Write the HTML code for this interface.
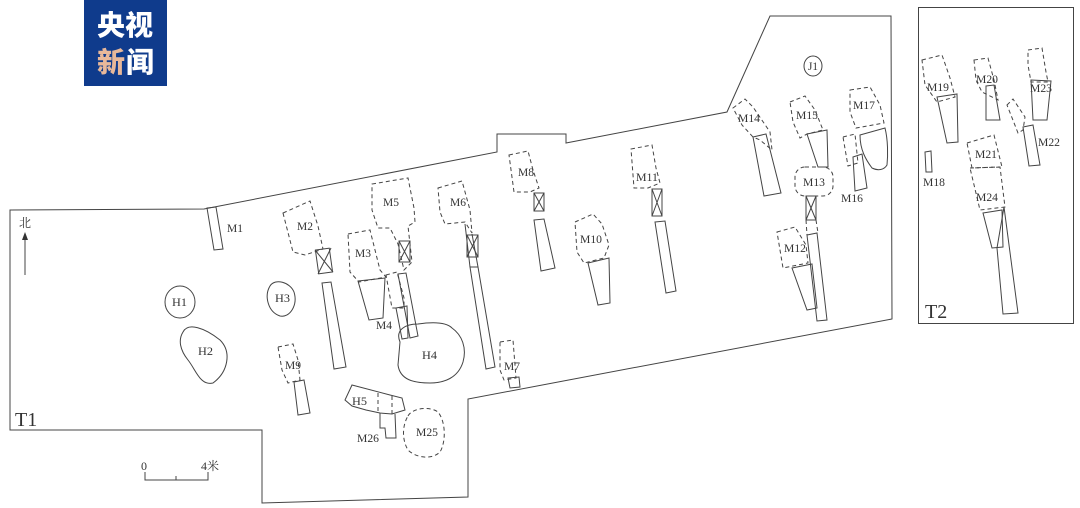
<!DOCTYPE html>
<html><head><meta charset="utf-8"><style>
html,body{margin:0;padding:0;background:#fff;}
svg{display:block}
.s{fill:none;stroke:#444;stroke-width:1}
.d{fill:none;stroke:#444;stroke-width:1;stroke-dasharray:4,3}
text{font-family:"Liberation Serif","Noto Serif CJK SC",serif;font-size:12px;fill:#333}
</style></head><body>
<svg width="1080" height="508" viewBox="0 0 1080 508" xmlns="http://www.w3.org/2000/svg">
<rect width="1080" height="508" fill="#fff"/>
<!-- logo -->
<rect x="84" y="0" width="83" height="86" fill="#0f3b8c"/>
<text x="125" y="35" text-anchor="middle" style="font-family:'Noto Sans CJK SC',sans-serif;font-weight:900;font-size:28px;fill:#fff">央视</text>
<text x="111" y="72" text-anchor="middle" style="font-family:'Noto Sans CJK SC',sans-serif;font-weight:900;font-size:28px;fill:#e8b89a">新</text>
<text x="140" y="72" text-anchor="middle" style="font-family:'Noto Sans CJK SC',sans-serif;font-weight:900;font-size:28px;fill:#fff">闻</text>

<!-- T1 outline -->
<polygon class="s" points="10,210 204,209 497,152 497,134 566,134 566,143 727,112 770,16 891,16 892,319 468,399 468,497 262,503 262,430 10,430"/>
<text x="15" y="426" style="font-size:20px">T1</text>
<!-- north -->
<text x="19" y="227" style="font-size:12px">北</text>
<line class="s" x1="25" y1="275" x2="25" y2="238"/>
<polygon points="25,232 22,240 28,240" fill="#333"/>
<!-- scale -->
<text x="141" y="470">0</text><text x="201" y="470">4米</text>
<polyline class="s" points="145,472 145,480 208,480 208,472"/>
<line class="s" x1="176" y1="480" x2="176" y2="476"/>

<!-- M1 -->
<polygon class="s" points="207,208 216,207 223,249 214,250"/>
<text x="227" y="232" textLength="16" lengthAdjust="spacingAndGlyphs">M1</text>
<!-- M2 -->
<polygon class="d" points="283,213 310,201 318,226 323,249 305,255 293,252"/>
<text x="297" y="230" textLength="16" lengthAdjust="spacingAndGlyphs">M2</text>
<rect class="s" x="317" y="249" width="14" height="24" transform="rotate(-8 324 261)"/>
<line class="s" x1="315" y1="250" x2="333" y2="272"/><line class="s" x1="331" y1="248" x2="318" y2="274"/>
<polygon class="s" points="322,283 331,282 346,367 334,369"/>
<!-- M3 -->
<polygon class="d" points="348,234 370,230 380,270 386,277 359,282 350,272"/>
<text x="355" y="257" textLength="16" lengthAdjust="spacingAndGlyphs">M3</text>
<polygon class="s" points="358,281 385,278 383,318 369,320"/>
<!-- M5 -->
<polygon class="d" points="372,184 408,178 414,208 415,222 408,226 412,262 404,270 398,244 390,228 378,228 372,210"/>
<text x="383" y="206" textLength="16" lengthAdjust="spacingAndGlyphs">M5</text>
<rect class="s" x="399" y="241" width="11" height="21"/>
<line class="s" x1="399" y1="241" x2="410" y2="262"/><line class="s" x1="410" y1="241" x2="399" y2="262"/>
<!-- M4 -->
<polygon class="d" points="386,275 397,272 404,298 404,308 392,308"/>
<polygon class="s" points="398,274 406,273 418,336 410,338"/>
<polygon class="s" points="396,308 407,306 408,338 402,339"/>
<text x="376" y="329" textLength="16" lengthAdjust="spacingAndGlyphs">M4</text>
<!-- H4 -->
<path class="s" d="M400,342 C395,330 405,324 418,324 C432,322 446,322 452,328 C462,335 467,348 463,362 C458,378 444,383 430,383 C414,383 400,380 398,365 Z"/>
<text x="422" y="359" textLength="15" lengthAdjust="spacingAndGlyphs">H4</text>
<!-- M6 -->
<polygon class="d" points="438,188 462,181 470,210 472,233 465,222 445,224 440,212"/>
<text x="450" y="206" textLength="16" lengthAdjust="spacingAndGlyphs">M6</text>
<rect class="s" x="467" y="235" width="11" height="22"/>
<line class="s" x1="467" y1="235" x2="478" y2="257"/><line class="s" x1="478" y1="235" x2="467" y2="257"/>
<polygon class="s" points="470,267 478,267 495,367 486,369"/>
<line class="s" x1="465" y1="224" x2="470" y2="267"/><line class="s" x1="472" y1="234" x2="478" y2="267"/>
<!-- M7 -->
<polygon class="d" points="500,342 513,340 516,378 504,380 500,370"/>
<text x="504" y="370" textLength="16" lengthAdjust="spacingAndGlyphs">M7</text>
<polygon class="s" points="508,378 519,377 520,387 510,388"/>
<!-- M8 -->
<polygon class="d" points="509,155 528,151 533,170 539,188 530,192 514,192"/>
<text x="518" y="176" textLength="16" lengthAdjust="spacingAndGlyphs">M8</text>
<rect class="s" x="534" y="193" width="10" height="18"/>
<line class="s" x1="534" y1="193" x2="544" y2="211"/><line class="s" x1="544" y1="193" x2="534" y2="211"/>
<polygon class="s" points="534,220 544,219 555,268 541,271"/>
<!-- M10 -->
<polygon class="d" points="575,222 593,214 602,224 609,245 604,258 584,263 577,252"/>
<text x="580" y="243" textLength="22" lengthAdjust="spacingAndGlyphs">M10</text>
<polygon class="s" points="588,263 609,258 610,303 598,305"/>
<!-- M11 -->
<polygon class="d" points="631,149 652,145 656,168 660,183 648,188 634,188"/>
<text x="636" y="181" textLength="22" lengthAdjust="spacingAndGlyphs">M11</text>
<rect class="s" x="652" y="189" width="10" height="27"/>
<line class="s" x1="652" y1="189" x2="662" y2="216"/><line class="s" x1="662" y1="189" x2="652" y2="216"/>
<polygon class="s" points="655,222 665,221 676,291 666,293"/>
<!-- M14 -->
<polygon class="d" points="733,108 745,99 753,107 770,132 772,150 760,140 753,137 742,125"/>
<text x="738" y="122" textLength="22" lengthAdjust="spacingAndGlyphs">M14</text>
<polygon class="s" points="753,137 766,134 781,193 764,196"/>
<!-- M15 -->
<polygon class="d" points="790,102 805,96 815,110 823,130 807,134 800,138 793,122"/>
<text x="796" y="119" textLength="22" lengthAdjust="spacingAndGlyphs">M15</text>
<polygon class="s" points="807,134 827,130 828,167 818,167"/>
<!-- M13 -->
<rect class="d" x="795" y="167" width="38" height="29" rx="10"/>
<text x="803" y="186" textLength="22" lengthAdjust="spacingAndGlyphs">M13</text>
<rect class="s" x="806" y="196" width="10" height="24"/>
<line class="s" x1="806" y1="196" x2="816" y2="220"/><line class="s" x1="816" y1="196" x2="806" y2="220"/>
<!-- M12 -->
<polygon class="d" points="777,232 795,227 806,245 808,263 783,268 780,250"/>
<text x="784" y="252" textLength="22" lengthAdjust="spacingAndGlyphs">M12</text>
<polygon class="s" points="792,268 812,264 817,308 807,310"/>
<polygon class="s" points="807,235 817,233 827,320 817,321"/>
<line class="d" x1="806" y1="220" x2="807" y2="235"/><line class="d" x1="816" y1="220" x2="818" y2="233"/>
<!-- M16 / M17 -->
<polygon class="d" points="843,137 855,134 858,163 848,166"/>
<polygon class="s" points="853,157 862,154 867,188 855,191"/>
<text x="841" y="202" textLength="22" lengthAdjust="spacingAndGlyphs">M16</text>
<polygon class="d" points="850,90 870,87 880,105 884,123 856,128 850,112"/>
<text x="853" y="109" textLength="22" lengthAdjust="spacingAndGlyphs">M17</text>
<path class="s" d="M860,135 L885,128 C888,140 888,155 887,165 C884,170 878,171 872,168 C866,160 860,150 860,135 Z"/>
<!-- J1 -->
<ellipse class="s" cx="813" cy="66" rx="9" ry="10"/>
<text x="808" y="70" textLength="10" lengthAdjust="spacingAndGlyphs">J1</text>
<!-- H1 H2 H3 -->
<ellipse class="s" cx="180" cy="302" rx="15" ry="16"/>
<text x="172" y="306" textLength="15" lengthAdjust="spacingAndGlyphs">H1</text>
<path class="s" d="M183,332 C188,322 205,328 220,340 C232,352 228,372 213,383 C200,386 196,370 188,360 C180,350 178,340 183,332 Z"/>
<text x="198" y="355" textLength="15" lengthAdjust="spacingAndGlyphs">H2</text>
<path class="s" d="M270,286 C275,278 290,282 294,292 C298,305 290,318 280,316 C268,312 264,296 270,286 Z"/>
<text x="275" y="302" textLength="15" lengthAdjust="spacingAndGlyphs">H3</text>
<!-- M9 -->
<polygon class="d" points="278,347 293,344 298,360 300,380 288,383 282,370"/>
<text x="285" y="369" textLength="16" lengthAdjust="spacingAndGlyphs">M9</text>
<polygon class="s" points="294,382 304,380 310,413 298,415"/>
<!-- H5 / M26 -->
<polygon class="s" points="352,385 390,395 402,398 405,410 392,414 380,413 366,410 352,406 345,400"/>
<line class="d" x1="378" y1="393" x2="378" y2="413"/><line class="d" x1="392" y1="396" x2="392" y2="414"/>
<text x="352" y="405" textLength="15" lengthAdjust="spacingAndGlyphs">H5</text>
<polyline class="s" points="380,413 380,428 385,428 386,438 396,438 395,414"/>
<text x="357" y="442" textLength="22" lengthAdjust="spacingAndGlyphs">M26</text>
<!-- M25 -->
<path class="d" d="M408,416 C412,408 430,406 438,412 C446,422 446,442 440,452 C432,460 416,458 408,450 C402,440 402,426 408,416 Z"/>
<text x="416" y="436" textLength="22" lengthAdjust="spacingAndGlyphs">M25</text>

<!-- T2 -->
<rect class="s" x="918.5" y="7.5" width="155" height="316"/>
<text x="925" y="318" style="font-size:20px">T2</text>
<polygon class="d" points="922,60 942,55 950,78 955,97 937,102 925,85"/>
<text x="927" y="91" textLength="22" lengthAdjust="spacingAndGlyphs">M19</text>
<polygon class="s" points="937,97 957,94 958,142 947,143"/>
<polygon class="d" points="974,60 988,58 994,80 998,100 982,92 976,80"/>
<text x="976" y="83" textLength="22" lengthAdjust="spacingAndGlyphs">M20</text>
<polygon class="s" points="986,86 994,85 1000,120 986,120"/>
<polygon class="d" points="1028,50 1042,48 1046,72 1048,82 1031,82 1028,65"/>
<text x="1030" y="92" textLength="22" lengthAdjust="spacingAndGlyphs">M23</text>
<polygon class="s" points="1031,80 1051,81 1047,120 1033,120"/>
<polygon class="d" points="1007,105 1013,99 1025,117 1023,130 1018,133"/>
<polygon class="s" points="1023,127 1033,125 1040,165 1029,166"/>
<text x="1038" y="146" textLength="22" lengthAdjust="spacingAndGlyphs">M22</text>
<polygon class="s" points="925,152 931,151 932,172 926,172"/>
<text x="923" y="186" textLength="22" lengthAdjust="spacingAndGlyphs">M18</text>
<polygon class="d" points="967,143 994,135 1002,167 972,168"/>
<text x="975" y="158" textLength="22" lengthAdjust="spacingAndGlyphs">M21</text>
<polygon class="d" points="970,168 1000,167 1005,207 980,210"/>
<text x="976" y="201" textLength="22" lengthAdjust="spacingAndGlyphs">M24</text>
<polygon class="s" points="983,213 1002,210 1003,247 992,248"/>
<polygon class="s" points="997,248 1004,207 1018,313 1003,314"/>
</svg>
</body></html>
